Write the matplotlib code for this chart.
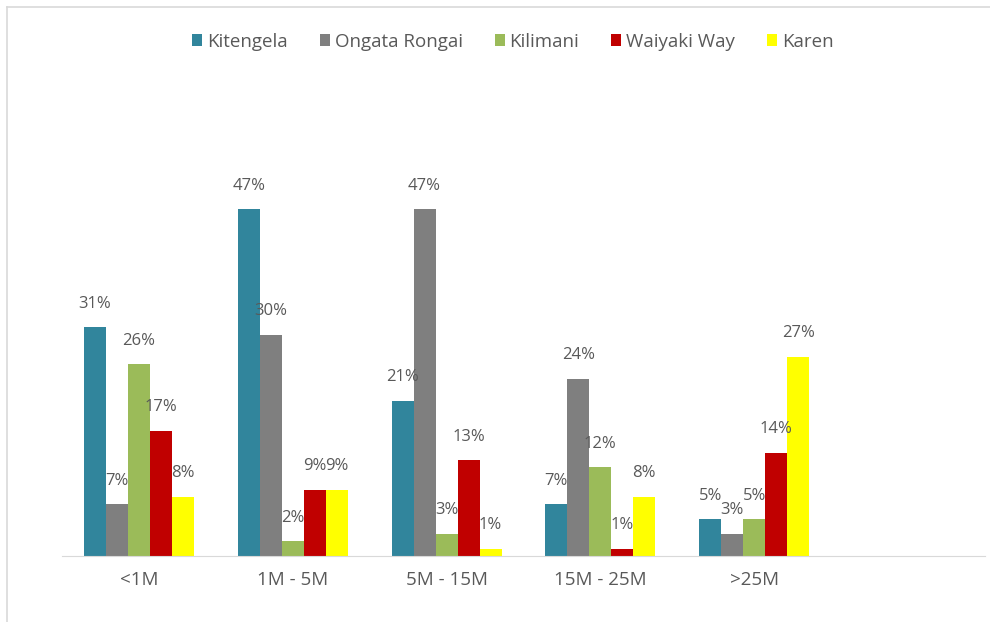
import numpy as np
import matplotlib.pyplot as plt
from matplotlib.lines import Line2D

categories = ["<1M", "1M - 5M", "5M - 15M", "15M - 25M", ">25M"]
series = ["Kitengela", "Ongata Rongai", "Kilimani", "Waiyaki Way", "Karen"]
kitengela = [31, 47, 21, 7, 5]
ongata = [7, 30, 47, 24, 3]
kilimani = [26, 2, 3, 12, 5]
waiyaki = [17, 9, 13, 1, 14]
karen = [8, 9, 1, 8, 27]
colors = ["#31859C", "#7F7F7F", "#9BBB59", "#C00000", "#FFFF00"]

plt.rcParams['font.family'] = ['Open Sans', 'DejaVu Sans']
txt = "#595959"

fig = plt.figure(figsize=(9.9, 6.22), dpi=100)
ax = fig.add_axes([0.0626, 0.106, 0.9323, 0.712])

data = [kitengela, ongata, kilimani, waiyaki, karen]
x = np.arange(len(categories))
w = 0.143
for i, vals in enumerate(data):
    pos = x + (i - 2) * w
    bars = ax.bar(pos, np.array(vals) / 100, w, color=colors[i], label=series[i])
    for b, v in zip(bars, vals):
        ax.annotate(f"{v}%", (b.get_x() + b.get_width() / 2, b.get_height()),
                    xytext=(0, 17), textcoords="offset points",
                    ha="center", va="center", fontsize=12, color=txt)

# one empty slot on the right, as in the original
ax.set_xlim(-0.5, 5.5)
ax.set_ylim(0, 0.6)
ax.set_xticks(x)
ax.set_xticklabels(categories, fontsize=13.5, color=txt)
ax.tick_params(axis="x", length=0, pad=11)
ax.set_yticks([])
for s in ["left", "right", "top"]:
    ax.spines[s].set_visible(False)
ax.spines["bottom"].set_color("#D9D9D9")

leg = fig.legend(loc="center", bbox_to_anchor=(0.518, 0.933), ncol=5, frameon=False,
                 fontsize=13.5, handlelength=0.55, handleheight=0.55, handletextpad=0.25,
                 columnspacing=1.7)
for t in leg.get_texts():
    t.set_color(txt)

# outer border (left and top)
fig.add_artist(Line2D([0.007, 0.007], [0.0, 0.989], color="#D9D9D9", lw=1.2,
                      transform=fig.transFigure))
fig.add_artist(Line2D([0.007, 1.0], [0.989, 0.989], color="#D9D9D9", lw=1.2,
                      transform=fig.transFigure))

fig.savefig("out.png", dpi=100)
